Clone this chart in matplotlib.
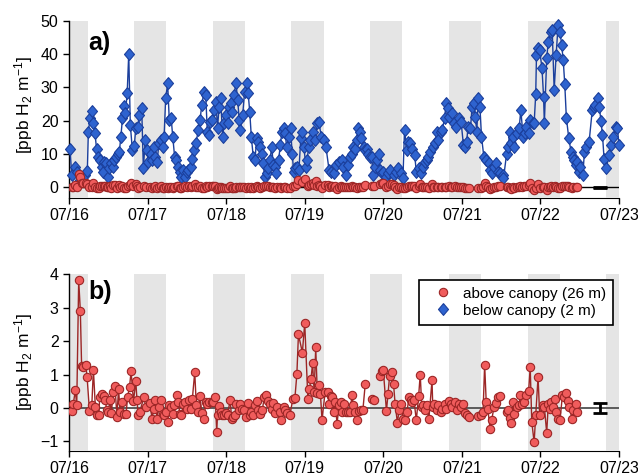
import numpy as np
import matplotlib.pyplot as plt
from matplotlib.lines import Line2D

plt.rcParams['font.family'] = ['Liberation Sans', 'DejaVu Sans']
plt.rcParams['mathtext.default'] = 'regular'

# time axis: days since 07/16 00:00
day_labels = ['07/16', '07/17', '07/18', '07/19', '07/20', '07/21', '07/22', '07/23']

# night periods (sunset -> sunrise), days since 07/16
night_start = [0.0, 0.83, 1.83, 2.83, 3.83, 4.83, 5.84, 6.83]
night_end = [0.24, 1.24, 2.24, 3.24, 4.24, 5.24, 6.25, 7.0]

# below canopy (2 m) H2 gradient, ppb H2 / m
t_below = [0.013, 0.034, 0.076, 0.106, 0.14, 0.2, 0.233, 0.246, 0.267, 0.29,
           0.31, 0.33, 0.35, 0.373, 0.39, 0.415, 0.43, 0.445, 0.466, 0.49,
           0.51, 0.534, 0.556, 0.577, 0.6, 0.62, 0.64, 0.66, 0.68, 0.70,
           0.717, 0.74, 0.76, 0.78, 0.806, 0.83, 0.85, 0.874, 0.895, 0.925,
           0.946, 0.97, 0.99, 1.01, 1.04, 1.06, 1.08, 1.10, 1.12, 1.145,
           1.166, 1.19, 1.21, 1.23, 1.255, 1.276, 1.30, 1.32, 1.344, 1.366,
           1.387, 1.408, 1.43, 1.455, 1.476, 1.50, 1.52, 1.55, 1.57, 1.59,
           1.616, 1.645, 1.667, 1.69, 1.717, 1.74, 1.76, 1.78, 1.80, 1.82,
           1.845, 1.87, 1.89, 1.91, 1.93, 1.955, 1.976, 2.0, 2.02, 2.04,
           2.06, 2.08, 2.10, 2.125, 2.146, 2.167, 2.18, 2.21, 2.235, 2.26,
           2.28, 2.30, 2.32, 2.345, 2.366, 2.39, 2.41, 2.43, 2.45, 2.47,
           2.49, 2.515, 2.536, 2.557, 2.58, 2.60, 2.62, 2.64, 2.667, 2.69,
           2.71, 2.73, 2.75, 2.77, 2.795, 2.82, 2.84, 2.86, 2.88, 2.90,
           2.926, 2.95, 2.97, 2.99, 3.015, 3.03, 3.05, 3.07, 3.10, 3.13,
           3.16, 3.18, 3.21, 3.24, 3.27, 3.31, 3.34, 3.37, 3.40, 3.44,
           3.47, 3.49, 3.52, 3.55, 3.58, 3.60, 3.62, 3.64, 3.66, 3.68,
           3.70, 3.72, 3.75, 3.77, 3.79, 3.81, 3.83, 3.85, 3.87, 3.89,
           3.92, 3.94, 3.96, 3.98, 4.00, 4.03, 4.06, 4.09, 4.13, 4.16,
           4.19, 4.22, 4.25, 4.27, 4.30, 4.32, 4.34, 4.37, 4.40, 4.42,
           4.45, 4.48, 4.50, 4.53, 4.55, 4.57, 4.60, 4.63, 4.66, 4.68,
           4.70, 4.73, 4.75, 4.78, 4.80, 4.82, 4.84, 4.88, 4.90, 4.93,
           4.96, 4.99, 5.02, 5.04, 5.06, 5.08, 5.11, 5.13, 5.15, 5.17,
           5.19, 5.21, 5.23, 5.25, 5.28, 5.31, 5.34, 5.36, 5.38, 5.41,
           5.44, 5.46, 5.49, 5.52, 5.53, 5.57, 5.59, 5.61, 5.63, 5.65,
           5.67, 5.70, 5.73, 5.75, 5.78, 5.80, 5.82, 5.85, 5.87, 5.90,
           5.92, 5.94, 5.95, 5.97, 5.99, 6.02, 6.04, 6.05, 6.08, 6.10,
           6.13, 6.15, 6.175, 6.20, 6.225, 6.25, 6.27, 6.29, 6.31, 6.33,
           6.36, 6.39, 6.41, 6.43, 6.45, 6.47, 6.49, 6.51, 6.54, 6.56,
           6.58, 6.62, 6.66, 6.68, 6.70, 6.73, 6.75, 6.77, 6.79, 6.81,
           6.84, 6.87, 6.90, 6.93, 6.96, 6.98, 7.0]
h2_below = [11.4, 3.6, 6.1, 4.6, 2.1, 3.6, 4.9, 16.7, 20.7, 22.9,
            19.2, 16.2, 11.6, 9.1, 8.1, 6.1, 4.6, 7.6, 7.1, 3.1,
            5.6, 7.1, 6.1, 8.1, 9.1, 10.1, 10.6, 15.2, 20.7, 24.4,
            22.2, 28.2, 40.1, 18.7, 11.3, 12.4, 17.7, 18.2, 21.7, 23.7,
            5.6, 14.2, 11.1, 7.6, 10.1, 8.1, 12.1, 9.1, 7.6, 13.2,
            14.2, 12.1, 15.2, 26.7, 31.2, 20.2, 20.7, 15.2, 9.1, 8.1,
            6.1, 4.6, 3.1, 5.1, 3.1, 4.6, 5.1, 6.1, 8.6, 11.1,
            13.2, 17.2, 20.2, 24.7, 28.7, 27.7, 16.7, 15.7, 19.7, 20.2,
            23.2, 25.7, 17.7, 24.2, 26.7, 15.2, 19.2, 21.7, 19.2, 24.2,
            25.2, 22.7, 27.7, 31.4, 26.2, 20.2, 17.2, 21.7, 28.7, 31.4,
            28.2, 22.7, 15.2, 9.1, 8.1, 14.7, 13.7, 12.1, 10.1, 7.1,
            3.1, 4.1, 5.6, 8.1, 12.1, 6.6, 6.1, 4.1, 8.1, 12.6,
            16.7, 17.7, 16.2, 12.1, 15.2, 17.7, 10.1, 4.6, 5.6, 6.1,
            5.1, 14.7, 16.7, 12.1, 6.1, 8.1, 12.1, 14.2, 16.7, 14.2,
            19.2, 19.7, 15.2, 14.2, 12.1, 5.1, 4.6, 4.1, 6.6, 7.6,
            8.1, 6.1, 3.6, 6.6, 9.1, 10.1, 12.1, 11.6, 14.2, 17.7,
            16.7, 14.7, 12.1, 11.1, 11.6, 10.1, 9.1, 9.1, 3.6, 6.1,
            8.1, 10.1, 5.1, 4.1, 4.6, 3.1, 4.1, 5.1, 3.6, 4.6,
            5.6, 4.1, 2.6, 17.2, 11.1, 13.7, 13.2, 11.6, 9.6, 4.6,
            5.6, 4.1, 6.1, 7.6, 8.1, 9.1, 10.6, 12.1, 13.2, 16.7,
            14.2, 16.7, 17.2, 20.7, 25.2, 23.7, 21.2, 22.2, 19.2, 18.2,
            20.7, 19.7, 12.7, 12.1, 13.7, 18.2, 17.7, 24.2, 25.2, 21.2,
            16.7, 26.7, 24.2, 15.2, 9.1, 8.1, 7.1, 5.1, 4.1, 6.1,
            7.1, 4.6, 4.1, 3.6, 2.6, 10.1, 12.1, 16.7, 13.2, 15.2,
            12.1, 16.2, 17.7, 23.2, 15.2, 16.2, 18.2, 16.2, 20.2, 19.2,
            19.2, 27.9, 39.8, 41.8, 41.3, 35.7, 27.2, 19.2, 38.8, 43.8,
            46.8, 47.3, 29.2, 39.8, 48.8, 46.8, 42.8, 38.3, 30.9, 20.9,
            14.9, 10.6, 9.1, 8.1, 6.6, 7.6, 4.6, 6.1, 3.6, 10.6,
            12.1, 13.7, 23.2, 24.2, 24.7, 26.7, 24.2, 19.9, 15.7, 8.6,
            5.6, 9.6, 12.7, 15.2, 18.2, 17.7, 12.7]

# above canopy (26 m) H2 gradient, ppb H2 / m
t_above = [0.034, 0.055, 0.08, 0.098, 0.123, 0.144, 0.16, 0.18, 0.21, 0.23,
           0.26, 0.29, 0.31, 0.335, 0.356, 0.38, 0.39, 0.415, 0.44, 0.46,
           0.48, 0.50, 0.52, 0.54, 0.56, 0.585, 0.61, 0.63, 0.65, 0.67,
           0.70, 0.725, 0.746, 0.77, 0.79, 0.82, 0.85, 0.865, 0.88, 0.90,
           0.954, 0.975, 1.03, 1.056, 1.08, 1.10, 1.12, 1.145, 1.166, 1.19,
           1.21, 1.23, 1.255, 1.276, 1.30, 1.32, 1.34, 1.37, 1.39, 1.41,
           1.43, 1.455, 1.48, 1.505, 1.53, 1.55, 1.57, 1.60, 1.62, 1.645,
           1.667, 1.69, 1.72, 1.74, 1.76, 1.785, 1.815, 1.836, 1.86, 1.88,
           1.89, 1.91, 1.93, 1.95, 1.97, 2.0, 2.02, 2.05, 2.07, 2.09,
           2.11, 2.13, 2.16, 2.18, 2.205, 2.23, 2.25, 2.28, 2.30, 2.32,
           2.345, 2.37, 2.39, 2.41, 2.43, 2.46, 2.485, 2.51, 2.53, 2.56,
           2.58, 2.60, 2.625, 2.65, 2.68, 2.70, 2.73, 2.75, 2.78, 2.81,
           2.85, 2.875, 2.90, 2.92, 2.97, 3.0, 3.04, 3.06, 3.08, 3.10,
           3.12, 3.14, 3.16, 3.18, 3.20, 3.22, 3.26, 3.29, 3.31, 3.33,
           3.35, 3.37, 3.39, 3.41, 3.44, 3.46, 3.48, 3.50, 3.52, 3.55,
           3.58, 3.60, 3.62, 3.64, 3.66, 3.69, 3.71, 3.74, 3.77, 3.85,
           3.88, 3.96, 3.98, 4.00, 4.04, 4.06, 4.08, 4.11, 4.13, 4.15,
           4.18, 4.20, 4.23, 4.25, 4.28, 4.30, 4.33, 4.35, 4.37, 4.39,
           4.42, 4.45, 4.47, 4.49, 4.51, 4.53, 4.55, 4.58, 4.62, 4.63,
           4.65, 4.68, 4.70, 4.73, 4.75, 4.78, 4.80, 4.83, 4.86, 4.88,
           4.91, 4.94, 4.96, 4.99, 5.02, 5.04, 5.07, 5.09, 5.21, 5.24,
           5.27, 5.29, 5.31, 5.33, 5.36, 5.38, 5.41, 5.43, 5.46, 5.48,
           5.57, 5.59, 5.61, 5.63, 5.65, 5.67, 5.70, 5.73, 5.74, 5.77,
           5.79, 5.82, 5.85, 5.87, 5.89, 5.92, 5.94, 5.97, 5.99, 6.03,
           6.05, 6.08, 6.10, 6.12, 6.14, 6.16, 6.18, 6.20, 6.22, 6.25,
           6.28, 6.30, 6.32, 6.35, 6.37, 6.40, 6.42, 6.45, 6.47]
h2_above = [-0.09, 0.13, 0.53, 0.08, 3.83, 2.9, 1.27, 1.22, 1.3, 0.93,
            -0.1, 0.08, 1.15, 0.03, -0.2, -0.22, 0.33, 0.43, 0.36, 0.23,
            -0.05, -0.12, 0.23, -0.15, 0.48, 0.65, -0.27, 0.58, -0.12, 0.18,
            -0.17, -0.19, 0.33, 0.63, 1.1, 0.2, 0.8, 0.23, -0.2, -0.12,
            0.33, 0.03, 0.15, -0.32, -0.02, 0.23, -0.32, 0.03, 0.23, -0.17,
            -0.22, -0.12, -0.42, 0.08, 0.03, -0.17, 0.08, 0.38, 0.18, -0.17,
            -0.22, 0.13, 0.18, -0.02, 0.23, -0.02, 0.28, 1.07, 0.08, -0.12,
            0.35, -0.15, -0.32, 0.18, 0.13, 0.18, 0.18, 0.18, 0.33, -0.72,
            -0.2, 0.05, -0.12, -0.2, -0.22, -0.15, -0.2, 0.25, -0.32, -0.27,
            -0.22, 0.13, -0.07, 0.13, -0.02, -0.07, -0.27, 0.15, -0.2, -0.12,
            -0.22, 0.08, 0.21, -0.07, -0.17, -0.07, 0.33, 0.38, 0.21, 0.13,
            -0.02, 0.15, -0.14, 0.03, -0.12, -0.37, 0.03, -0.07, -0.15, -0.22,
            0.28, 0.3, 1.01, 2.2, 1.66, 2.54, 0.27, 0.57, 0.86, 1.34,
            0.48, 1.81, 0.45, 0.69, 0.41, -0.35, 0.48, 0.48, 0.13, 0.35,
            0.33, -0.12, 0.18, -0.47, 0.08, 0.18, -0.12, 0.13, -0.12, -0.12,
            -0.12, 0.38, 0.08, -0.12, -0.35, -0.1, -0.07, -0.07, 0.71, 0.28,
            0.23, 0.95, 1.1, 1.14, -0.09, 0.41, 0.96, 1.07, 0.73, 0.13,
            -0.45, -0.07, 0.13, -0.32, -0.37, -0.12, 0.33, 0.23, 0.18, 0.25,
            -0.37, 0.36, 1.0, 0.03, 0.08, -0.07, 0.08, -0.34, 0.83, 0.03,
            0.13, -0.07, 0.1, -0.12, -0.02, 0.11, -0.02, 0.21, 0.13, 0.03,
            0.18, -0.07, 0.13, 0.03, 0.13, -0.15, -0.22, -0.27, -0.24, -0.2,
            -0.12, 1.3, 0.18, -0.02, -0.64, -0.35, 0.03, 0.15, 0.33, 0.36,
            -0.12, -0.07, -0.3, -0.44, 0.17, -0.19, 0.03, 0.08, 0.38, 0.11,
            0.18, 0.38, 0.51, 1.22, -0.42, -1.03, -0.22, 0.93, -0.2, 0.08,
            0.03, -0.75, 0.11, -0.02, 0.18, 0.03, 0.28, -0.12, -0.32, -0.35,
            0.38, 0.33, 0.46, 0.21, 0.03, -0.32, -0.05, 0.13, -0.12]

# typical uncertainty of the gradient
err_t = 6.76
err_half = 0.15

blue_face, blue_edge = '#2e63cf', '#1b3f9c'
red_face, red_edge = '#f05c5c', '#9c2626'
diamond = [(0, 1), (0.85, 0), (0, -1), (-0.85, 0), (0, 1)]


def with_gaps(t, v, max_gap=0.07):
    # break the connecting line where data are missing
    t = np.asarray(t, float)
    v = np.asarray(v, float)
    idx = np.where(np.diff(t) > max_gap)[0] + 1
    return np.insert(t, idx, np.nan), np.insert(v, idx, np.nan)


def setup(ax, ylim, yticks):
    for s, e in zip(night_start, night_end):
        ax.axvspan(s, e, color='#e5e5e5', lw=0, zorder=0.5)
    ax.set_xlim(0, 7)
    ax.set_ylim(*ylim)
    ax.set_yticks(yticks)
    ax.set_xticks(range(len(day_labels)))
    ax.set_xticklabels(day_labels)
    ax.spines[['top', 'right']].set_visible(False)
    ax.spines['bottom'].set_zorder(0.4)
    ax.spines['left'].set_linewidth(1.0)
    ax.tick_params(direction='out', length=4, width=1, labelsize=11.5)
    ax.set_ylabel('[ppb H$_2$ m$^{-1}$]', fontsize=12.5)
    ax.errorbar([err_t], [0], yerr=[err_half], fmt='none', ecolor='black',
                elinewidth=2, capsize=5.3, capthick=2, zorder=5)


fig = plt.figure(figsize=(6.38, 4.75), dpi=100)
ax_a = fig.add_axes([0.1082, 0.5838, 0.862, 0.372])
ax_b = fig.add_axes([0.1082, 0.0512, 0.862, 0.3726])

tb, vb = with_gaps(t_below, h2_below)
ta, va = with_gaps(t_above, h2_above)

# a) both heights
setup(ax_a, (-3.2, 50), range(0, 51, 10))
ax_a.axhline(0, color='black', lw=1, zorder=1)
ax_a.plot(tb, vb, '-', color=blue_edge, lw=1, marker=diamond, ms=8.5,
          mfc=blue_face, mec=blue_edge, mew=0.8, zorder=3, clip_on=False)
ax_a.plot(ta, va, '-', color=red_edge, lw=1, marker='o', ms=6,
          mfc=red_face, mec=red_edge, mew=0.8, zorder=4)
ax_a.text(0.0345, 0.878, 'a)', transform=ax_a.transAxes, fontsize=18,
          fontweight='bold', ha='left', va='center')
ax_a.yaxis.set_label_coords(-0.062, 0.525)

# b) above canopy only
setup(ax_b, (-1.28, 4.02), range(-1, 5))
ax_b.axhline(0, color='#505050', lw=1.3, zorder=1)
ax_b.plot(ta, va, '-', color=red_edge, lw=1, marker='o', ms=6,
          mfc=red_face, mec=red_edge, mew=0.8, zorder=4)
ax_b.text(0.0345, 0.894, 'b)', transform=ax_b.transAxes, fontsize=18,
          fontweight='bold', ha='left', va='center')
ax_b.yaxis.set_label_coords(-0.062, 0.5)

handles = [Line2D([], [], ls='none', marker='o', ms=6, mfc=red_face,
                  mec=red_edge, mew=0.8, label='above canopy (26 m)'),
           Line2D([], [], ls='none', marker=diamond, ms=8.5, mfc=blue_face,
                  mec=blue_edge, mew=0.8, label='below canopy (2 m)')]
leg = ax_b.legend(handles=handles, loc='upper right', bbox_to_anchor=(0.99, 0.965),
                  fontsize=11, fancybox=False, edgecolor='black', framealpha=1,
                  borderpad=0.45, labelspacing=0.2, handlelength=2.2,
                  handletextpad=0.25, borderaxespad=0)
leg.get_frame().set_linewidth(1.2)
leg.set_zorder(6)

fig.savefig('out.png', dpi=100)
